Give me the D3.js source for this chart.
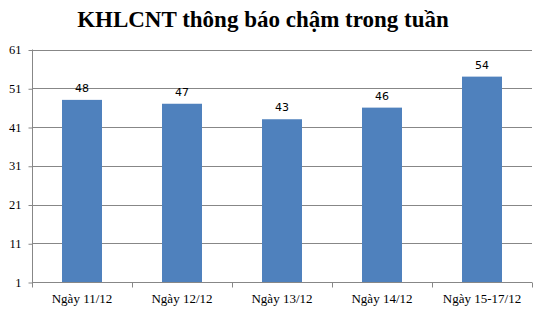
<!DOCTYPE html>
<html>
<head>
<meta charset="utf-8">
<script src="https://cdn.jsdelivr.net/npm/d3@7"></script>
<style>
  body { margin: 0; background: #fff; }
  svg { display: block; }
</style>
</head>
<body>
<svg id="chart" width="542" height="311"></svg>
<script>
var categories = ["Ngày 11/12", "Ngày 12/12", "Ngày 13/12", "Ngày 14/12", "Ngày 15-17/12"];
var values = [48, 47, 43, 46, 54];
var yTicks = [1, 11, 21, 31, 41, 51, 61];

var svg = d3.select("#chart");
// plot box (note: "top" is reserved on window, so use plotTop)
var plotLeft = 32, plotRight = 532, plotTop = 49.5, plotBottom = 282;

var x = d3.scaleBand().domain(categories).range([plotLeft, plotRight]).paddingInner(0.6).paddingOuter(0.3);
var y = d3.scaleLinear().domain([1, 61]).range([plotBottom, plotTop]);

// title
svg.append("text")
  .attr("x", 263).attr("y", 27)
  .attr("text-anchor", "middle")
  .style("font-family", "'Liberation Serif', 'Times New Roman', serif")
  .style("font-weight", "bold")
  .style("font-size", "23px")
  .text("KHLCNT thông báo chậm trong tuần");

// gridlines
svg.append("g").selectAll("line")
  .data(yTicks.slice(1)).enter().append("line")
  .attr("x1", plotLeft).attr("x2", plotRight)
  .attr("y1", function(d){ return Math.round(y(d)) + 0.5; })
  .attr("y2", function(d){ return Math.round(y(d)) + 0.5; })
  .attr("stroke", "#878787").attr("stroke-width", 1);

// bars
svg.append("g").selectAll("rect")
  .data(values).enter().append("rect")
  .attr("x", function(d, i){ return x(categories[i]); })
  .attr("y", function(d){ return y(d); })
  .attr("width", x.bandwidth())
  .attr("height", function(d){ return plotBottom - y(d); })
  .attr("fill", "#4F81BD");

// value labels
svg.append("g").selectAll("text")
  .data(values).enter().append("text")
  .attr("x", function(d, i){ return x(categories[i]) + x.bandwidth() / 2; })
  .attr("y", function(d){ return y(d) - 8; })
  .attr("text-anchor", "middle")
  .style("font-family", "'DejaVu Sans', Verdana, sans-serif")
  .style("font-size", "11px")
  .attr("fill", "#000")
  .text(function(d){ return d; });

// y axis
var yAxis = d3.axisLeft(y).tickValues(yTicks).tickSize(4).tickPadding(7);
var gy = svg.append("g").attr("transform", "translate(" + (plotLeft + 0.5) + ",0)").call(yAxis);
gy.select(".domain").attr("stroke", "#878787").attr("d", "M0," + plotTop + "V" + plotBottom);
gy.selectAll(".tick line").attr("stroke", "#878787")
  .attr("transform", function(){ return "translate(0,0.5)"; });
gy.selectAll(".tick text")
  .style("font-family", "'Liberation Serif', 'Times New Roman', serif")
  .style("font-size", "12.5px").attr("fill", "#000");

// x axis
var step = (plotRight - plotLeft) / categories.length;
var gx = svg.append("g").attr("transform", "translate(0," + (plotBottom + 0.5) + ")");
gx.append("line").attr("x1", plotLeft).attr("x2", plotRight).attr("stroke", "#878787");
gx.selectAll("line.tk")
  .data(d3.range(categories.length + 1)).enter().append("line")
  .attr("class", "tk")
  .attr("x1", function(i){ return Math.round(plotLeft + i * step) + 0.5; })
  .attr("x2", function(i){ return Math.round(plotLeft + i * step) + 0.5; })
  .attr("y1", 0).attr("y2", 5).attr("stroke", "#878787");
gx.selectAll("text")
  .data(categories).enter().append("text")
  .attr("x", function(d){ return x(d) + x.bandwidth() / 2; })
  .attr("y", 20)
  .attr("text-anchor", "middle")
  .style("font-family", "'Liberation Serif', 'Times New Roman', serif")
  .style("font-size", "13px")
  .text(function(d){ return d; });
</script>
</body>
</html>
